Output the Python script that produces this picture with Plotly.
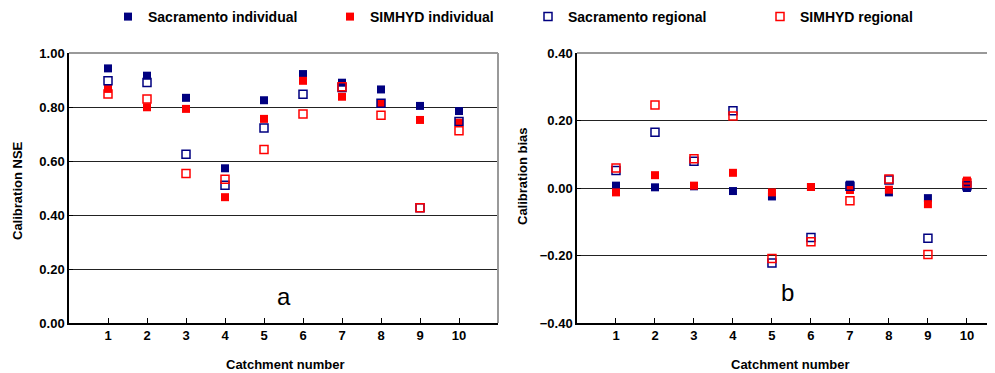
import plotly.graph_objects as go

catchments = [1, 2, 3, 4, 5, 6, 7, 8, 9, 10]
series_names = ["Sacramento individual", "SIMHYD individual", "Sacramento regional", "SIMHYD regional"]

nse_sac_ind = [0.943, 0.916, 0.834, 0.573, 0.825, 0.922, 0.890, 0.865, 0.804, 0.785]
nse_sim_ind = [0.867, 0.799, 0.793, 0.466, 0.756, 0.897, 0.838, 0.814, 0.752, 0.742]
nse_sac_reg = [0.897, 0.891, 0.625, 0.510, 0.722, 0.847, 0.872, 0.814, 0.427, 0.746]
nse_sim_reg = [0.848, 0.830, 0.554, 0.532, 0.643, 0.774, 0.875, 0.769, 0.427, 0.712]

bias_sac_ind = [0.007, 0.002, 0.005, -0.009, -0.025, 0.003, 0.010, -0.013, -0.030, 0.000]
bias_sim_ind = [-0.013, 0.038, 0.007, 0.045, -0.013, 0.003, -0.006, -0.005, -0.048, 0.022]
bias_sac_reg = [0.052, 0.165, 0.079, 0.229, -0.222, -0.147, 0.005, 0.024, -0.149, 0.007]
bias_sim_reg = [0.059, 0.246, 0.087, 0.213, -0.209, -0.159, -0.038, 0.027, -0.197, 0.015]

NAVY = "#000080"
RED = "#ff0000"
FONT = "Liberation Sans, Arial, sans-serif"
OFF = 8  # page body margin
W, H = 995 - OFF, 373 - OFF
T, B = 53 - OFF, H - (323 - OFF)
PH = H - T - B

def px_x(x):
    return (x - OFF) / W

def px_y(y):
    return (H - B - (y - OFF)) / PH

styles = [
    dict(symbol="square", color=NAVY, line=dict(width=0)),
    dict(symbol="square", color=RED, line=dict(width=0)),
    dict(symbol="square-open", color=NAVY, line=dict(width=1.5, color=NAVY)),
    dict(symbol="square-open", color=RED, line=dict(width=1.5, color=RED)),
]
legend_ids = ["legend", "legend2", "legend3", "legend4"]
legend_sym_x = [128, 350, 548, 780]

fig = go.Figure()

nse = [nse_sac_ind, nse_sim_ind, nse_sac_reg, nse_sim_reg]
bias = [bias_sac_ind, bias_sim_ind, bias_sac_reg, bias_sim_reg]
for i in range(4):
    st = styles[i]
    fig.add_trace(go.Scatter(
        x=catchments, y=nse[i], mode="markers", name=series_names[i],
        legend=legend_ids[i], xaxis="x", yaxis="y",
        marker=dict(symbol=st["symbol"], size=8, color=st["color"], line=st["line"]),
    ))
for i in range(4):
    st = styles[i]
    fig.add_trace(go.Scatter(
        x=catchments, y=bias[i], mode="markers", name=series_names[i],
        showlegend=False, xaxis="x2", yaxis="y2",
        marker=dict(symbol=st["symbol"], size=8, color=st["color"], line=st["line"]),
    ))

tickfont = dict(family=FONT, size=13, color="black", weight="bold")
titlefont = dict(family=FONT, size=13, color="black", weight="bold")

xcommon = dict(
    tickmode="array", tickvals=catchments, ticktext=[str(c) for c in catchments],
    ticks="inside", ticklen=5, tickcolor="black", tickwidth=1,
    showline=True, linecolor="black", linewidth=1.5, showgrid=False, zeroline=False,
    tickfont=tickfont,
)
ycommon = dict(
    domain=[0, 1], dtick=0.2, tick0=0, tickformat=".2f",
    showgrid=True, gridcolor="#222222", gridwidth=1, zeroline=False,
    showline=True, linecolor="black", linewidth=1.5,
    ticks="inside", ticklen=4, tickcolor="black", tickwidth=1,
    tickfont=tickfont,
)

legends = {}
for i, lid in enumerate(legend_ids):
    legends[lid] = dict(
        orientation="h", x=(legend_sym_x[i] - OFF - 20) / W, y=1 - (17 - OFF) / H,
        xref="container", yref="container", xanchor="left", yanchor="middle",
        font=dict(family=FONT, size=14, color="black", weight="bold"),
        itemsizing="trace", bgcolor="rgba(0,0,0,0)",
    )

fig.update_layout(
    width=W, height=H,
    margin=dict(l=0, r=0, t=T, b=B, autoexpand=False),
    plot_bgcolor="white", paper_bgcolor="white",
    font=dict(family=FONT, color="black"),
    showlegend=True,
    xaxis=dict(domain=[px_x(69), px_x(498)], range=[0, 11], anchor="y", **xcommon),
    yaxis=dict(range=[0, 1.0], anchor="x", **ycommon),
    xaxis2=dict(domain=[px_x(577), 1.0], range=[0, 10.72], anchor="y2", **xcommon),
    yaxis2=dict(range=[-0.4, 0.4], anchor="x2", **ycommon),
    shapes=[
        dict(type="line", xref="x domain", yref="y domain", x0=0, x1=1, y0=1, y1=1,
             line=dict(color="#999999", width=2)),
        dict(type="line", xref="x domain", yref="y domain", x0=1, x1=1, y0=0, y1=1,
             line=dict(color="#999999", width=2)),
        dict(type="line", xref="x2 domain", yref="y2 domain", x0=0, x1=1, y0=1, y1=1,
             line=dict(color="#999999", width=2)),
    ],
    annotations=[
        dict(text="a", x=5.5, y=0.10, xref="x", yref="y", showarrow=False,
             font=dict(family=FONT, size=24, color="black")),
        dict(text="b", x=5.4, y=-0.31, xref="x2", yref="y2", showarrow=False,
             font=dict(family=FONT, size=24, color="black")),
        dict(text="Calibration NSE", x=px_x(17), y=px_y(191), xref="paper", yref="paper",
             xanchor="center", yanchor="middle",
             textangle=-90, showarrow=False, font=titlefont),
        dict(text="Calibration bias", x=px_x(522), y=px_y(176), xref="paper", yref="paper",
             xanchor="center", yanchor="middle",
             textangle=-90, showarrow=False, font=titlefont),
        dict(text="Catchment number", x=px_x(285), y=px_y(355), xref="paper", yref="paper",
             xanchor="center", yanchor="top", showarrow=False, font=titlefont),
        dict(text="Catchment number", x=px_x(790), y=px_y(355), xref="paper", yref="paper",
             xanchor="center", yanchor="top", showarrow=False, font=titlefont),
    ],
)
for lid, cfg in legends.items():
    fig.update_layout({lid: cfg})

fig.write_html("out.html")
